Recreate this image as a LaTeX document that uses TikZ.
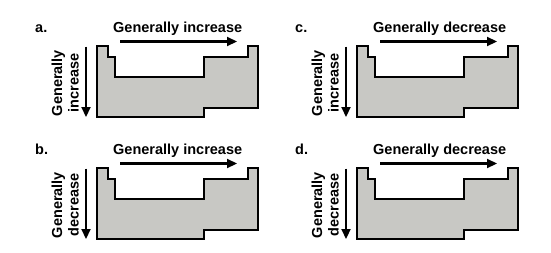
\documentclass[tikz,border=0pt]{standalone}
\usepackage{fontspec}
\setmainfont{Liberation Sans}
\usetikzlibrary{arrows.meta}
\definecolor{tablegray}{RGB}{200,200,196}
\begin{document}
\begin{tikzpicture}[x=1pt,y=-1pt,
  lbl/.style={font=\fontsize{14.5}{17}\selectfont\bfseries, inner sep=0pt},
  arr/.style={line width=2.2pt, -{Triangle[length=10pt,width=9pt]}},
  tbl/.style={fill=tablegray, draw=black, line width=2pt}]
\useasboundingbox[fill=white] (0,0) rectangle (551,252);
\foreach \dx/\dy/\L/\H/\V/\id in {0/0/a./increase/increase/a, 0/122/b./increase/decrease/b, 260/0/c./decrease/increase/c, 260/122/d./decrease/decrease/d}{
 \begin{scope}[shift={(\dx,\dy)}]
  \draw[tbl] (97,46) -- (107.5,46) -- (107.5,57) -- (115,57) -- (115,77) -- (204,77)
     -- (204,56.5) -- (248,56.5) -- (248,46) -- (258,46) -- (258,108) -- (204,108)
     -- (204,117) -- (97,117) -- cycle;
  \node[lbl, anchor=base west] (let\id) at (35,32) {\L};
  \node[lbl, anchor=base west] (h\id) at (113,32) {Generally \H};
  \node[lbl, rotate=90, anchor=base] (vone\id) at (62,83) {Generally};
  \node[lbl, rotate=90, anchor=base] (vtwo\id) at (78.7,83) {\V};
  \coordinate (hs\id) at (120,41.5);
  \coordinate (he\id) at (237,41.5);
  \coordinate (vs\id) at (86,46.5);
  \coordinate (ve\id) at (86,117);
  \draw[arr] (hs\id) -- (he\id);
  \draw[arr] (vs\id) -- (ve\id);
 \end{scope}
}
\end{tikzpicture}
\end{document}
